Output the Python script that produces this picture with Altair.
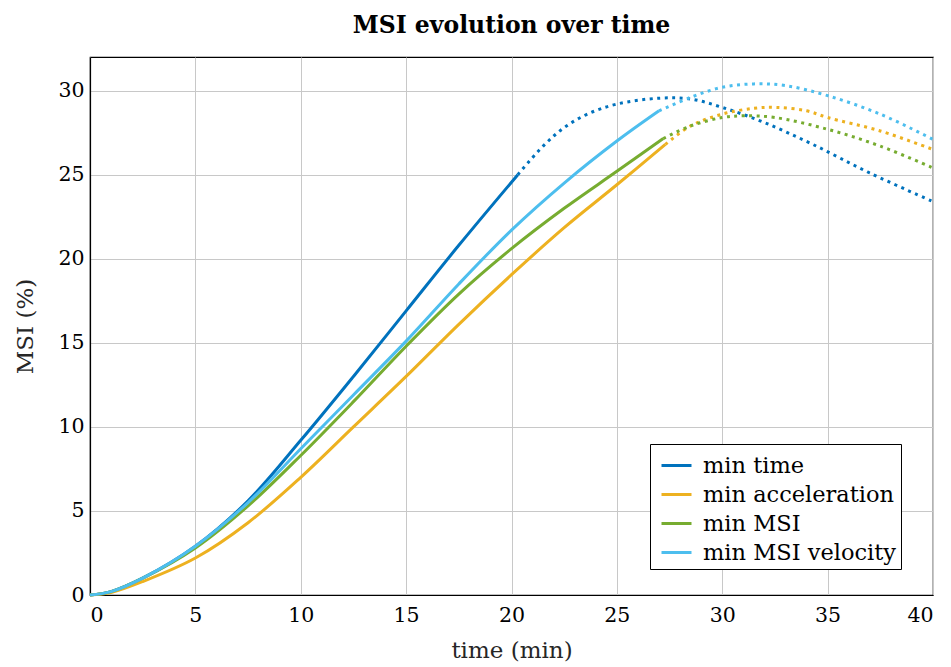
import altair as alt
import pandas as pd

series_names = ["min time", "min acceleration", "min MSI", "min MSI velocity"]
series_colors = ["#0072BD", "#EDB120", "#77AC30", "#4DBEEE"]

# min time
t_solid_x = [0, 1, 2.5, 5, 7.5, 10, 12.5, 15, 17.5, 20.3]
t_solid_y = [0, 0.2, 1.0, 2.9, 5.6, 9.2, 13.0, 16.9, 20.8, 25.0]
t_dot_x = [20.3, 21.5, 22.5, 23.6, 25, 27, 28.5, 30, 32, 34.3, 37, 40]
t_dot_y = [25.0, 26.7, 27.8, 28.6, 29.2, 29.55, 29.5, 29.0, 28.1, 26.8, 25.1, 23.4]

# min acceleration
a_solid_x = [0, 1, 2.5, 5, 7.5, 10, 12.5, 15, 17.5, 20, 22.5, 25, 27.3]
a_solid_y = [0, 0.15, 0.8, 2.2, 4.3, 7.0, 10.0, 13.0, 16.1, 19.05, 21.85, 24.4, 26.8]
a_dot_x = [27.3, 28.5, 30, 31.5, 32.6, 34, 35, 37.5, 40]
a_dot_y = [26.8, 27.9, 28.6, 28.95, 29.0, 28.8, 28.4, 27.6, 26.5]

# min MSI
m_solid_x = [0, 1, 2.5, 5, 7.5, 10, 12.5, 15, 17.5, 20, 22.5, 25, 27.2]
m_solid_y = [0, 0.2, 1.0, 2.8, 5.3, 8.3, 11.5, 14.8, 17.9, 20.6, 23.0, 25.2, 27.15]
m_dot_x = [27.2, 28.5, 30, 31, 32.5, 35, 37.5, 40]
m_dot_y = [27.15, 27.9, 28.4, 28.5, 28.4, 27.7, 26.7, 25.4]

# min MSI velocity
v_solid_x = [0, 1, 2.5, 5, 7.5, 10, 12.5, 15, 17.5, 20, 22.5, 25, 27.0]
v_solid_y = [0, 0.2, 1.0, 2.9, 5.5, 8.7, 11.9, 15.1, 18.5, 21.7, 24.5, 27.0, 28.8]
v_dot_x = [27.0, 28.5, 30, 31.5, 33, 35, 37.5, 40]
v_dot_y = [28.8, 29.6, 30.2, 30.4, 30.3, 29.7, 28.6, 27.1]

x_ticks = [0, 5, 10, 15, 20, 25, 30, 35, 40]
y_ticks = [0, 5, 10, 15, 20, 25, 30]

FONT = "DejaVu Serif"

parts = [
    (series_names[0], t_solid_x, t_solid_y, t_dot_x, t_dot_y),
    (series_names[1], a_solid_x, a_solid_y, a_dot_x, a_dot_y),
    (series_names[2], m_solid_x, m_solid_y, m_dot_x, m_dot_y),
    (series_names[3], v_solid_x, v_solid_y, v_dot_x, v_dot_y),
]

color_scale = alt.Scale(domain=series_names, range=series_colors)
x_enc = alt.X("x:Q", scale=alt.Scale(domain=[0, 40], nice=False),
              axis=alt.Axis(values=x_ticks, title="time (min)"))
y_enc = alt.Y("y:Q", scale=alt.Scale(domain=[0, 32], nice=False),
              axis=alt.Axis(values=y_ticks, title="MSI (%)"))

layers = []
for name, sx, sy, dx, dy in parts:
    sdf = pd.DataFrame({"x": sx, "y": sy, "series": name})
    ddf = pd.DataFrame({"x": dx, "y": dy, "series": name})
    solid = alt.Chart(sdf).mark_line(strokeWidth=3, interpolate="catmull-rom").encode(
        x=x_enc, y=y_enc,
        color=alt.Color("series:N", scale=color_scale, title=None,
                        legend=alt.Legend(orient="none", legendX=560, legendY=387)),
    )
    dotted = alt.Chart(ddf).mark_line(strokeWidth=3, interpolate="catmull-rom",
                                      strokeDash=[3, 4.5]).encode(
        x=x_enc, y=y_enc,
        color=alt.Color("series:N", scale=color_scale, legend=None),
    )
    layers += [solid, dotted]

chart = alt.layer(*layers).properties(
    width=843, height=538,
    title=alt.TitleParams("MSI evolution over time", font=FONT, fontSize=23.5,
                          fontWeight="bold", color="black", offset=20),
    autosize=alt.AutoSizeParams(type="none"),
    padding={"left": 90, "top": 57, "right": 18, "bottom": 72},
).configure_view(
    stroke="black", strokeWidth=1.2
).configure_axis(
    labelFont=FONT, labelFontSize=20.5, labelColor="black",
    titleFont=FONT, titleFontSize=23, titleColor="#262626", titleFontWeight="normal",
    gridColor="#c8c8c8", gridWidth=1, domainColor="black", domainWidth=1.2,
    ticks=False,
).configure_axisX(
    labelPadding=10, titleY=55, titleBaseline="middle"
).configure_axisY(
    labelPadding=6, titleX=-65, titleBaseline="middle"
).configure_legend(
    labelFont=FONT, labelFontSize=22.5, labelColor="black",
    symbolType="stroke", symbolStrokeWidth=3, symbolSize=900, symbolOffset=5,
    strokeColor="black", fillColor="white", padding=5,
    rowPadding=1, labelOffset=10, labelLimit=400,
)

chart.save("out.html", embed_options={"renderer": "svg", "actions": False})
